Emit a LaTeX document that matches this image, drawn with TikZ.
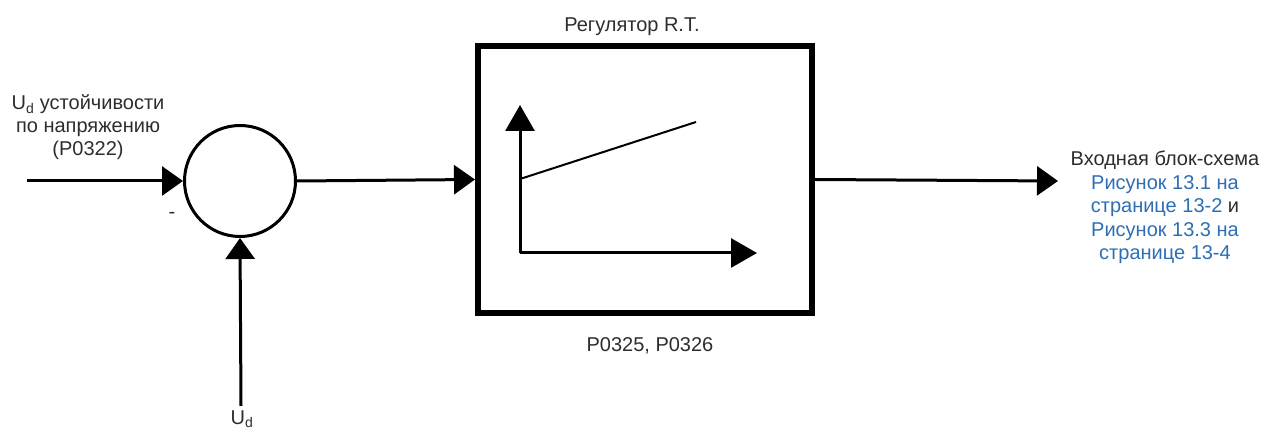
\documentclass[tikz,border=0pt]{standalone}
\usepackage{fontspec}
\setmainfont{Liberation Sans}
\usetikzlibrary{arrows.meta}
\definecolor{linkblue}{RGB}{45,110,180}
\definecolor{txt}{RGB}{45,45,45}
\tikzset{
  lbl/.style={font=\fontsize{20}{23}\selectfont, text=txt, inner sep=0pt, align=center},
  arr/.style={line width=3pt, -{Triangle[length=21pt,width=29pt]}},
  axisarr/.style={line width=3pt, -{Triangle[length=26pt,width=29pt]}},
}
\begin{document}
\begin{tikzpicture}[x=1pt,y=-1pt]
\useasboundingbox (0,0) rectangle (1269,430);
\clip (0,0) rectangle (1269,430);
% sum junction
\node[circle, draw, line width=3pt, minimum size=111pt, inner sep=0pt] (sum) at (240,181) {};
% regulator block
\node[rectangle, draw, line width=6pt, minimum width=334pt, minimum height=267pt, inner sep=0pt] (reg) at (645,179.5) {};
% free ends
\coordinate (in) at (27,181);
\coordinate (ud) at (241,406);
\coordinate (out) at (1058,181);
% connectors
\draw[arr] (in) -- (sum.west);
\draw[arr] (ud) -- (sum.south);
\draw[arr] (sum.east) -- (reg.west);
\draw[arr] (reg.east) -- (out);
% inner characteristic
\coordinate (o) at (520,253);
\coordinate (ytop) at (520,105);
\coordinate (xr) at (757,253);
\coordinate (l0) at (520,179);
\coordinate (l1) at (696,122);
\draw[axisarr] (o) -- (ytop);
\draw[axisarr] (o) -- (xr);
\draw[line width=2pt] (l0) -- (l1);
% texts
\node[lbl, anchor=base] (title) at (632,32) {Регулятор R.T.};
\node[lbl, anchor=base] (params) at (650,352) {P0325, P0326};
\node[lbl, anchor=base] (l1t) at (88,110) {U\textsubscript{d} устойчивости};
\node[lbl, anchor=base] (l2t) at (88,133) {по напряжению};
\node[lbl, anchor=base] (l3t) at (88,156) {(P0322)};
\node[lbl, anchor=base] (minus) at (172,219) {-};
\node[lbl, anchor=base] (udt) at (242,424) {U\textsubscript{d}};
\node[lbl, anchor=base] (r1) at (1165,166) {Входная блок-схема};
\node[lbl, anchor=base, text=linkblue] (r2) at (1165,189.5) {Рисунок 13.1 на};
\node[lbl, anchor=base] (r3) at (1165,213) {\textcolor{linkblue}{странице 13-2} и};
\node[lbl, anchor=base, text=linkblue] (r4) at (1165,236.5) {Рисунок 13.3 на};
\node[lbl, anchor=base, text=linkblue] (r5) at (1165,260) {странице 13-4};
\end{tikzpicture}
\end{document}
